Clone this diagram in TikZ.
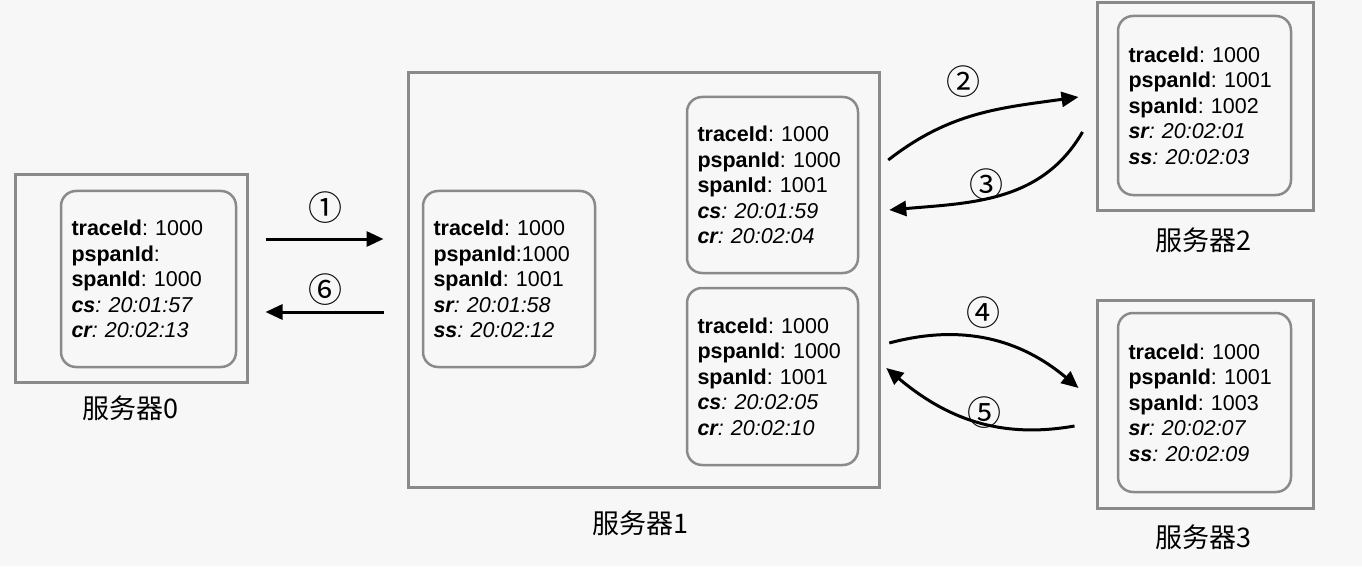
\documentclass[tikz,border=0pt]{standalone}
\usepackage{fontspec}
\setmainfont{Liberation Sans}
\newfontfamily\cjk{Noto Sans CJK SC}
\usetikzlibrary{arrows.meta}
\definecolor{bggray}{HTML}{F7F7F7}
\definecolor{boxgray}{HTML}{8A8A8A}
\frenchspacing

\begin{document}
\begin{tikzpicture}[x=1pt,y=1pt,
    server/.style={draw=boxgray,line width=3pt,inner sep=0pt},
    span/.style={draw=boxgray,line width=2.5pt,rounded corners=15pt,inner xsep=10.5pt,inner ysep=0pt,
      align=left,font=\fontsize{21.5}{25.5}\selectfont},
    lbl/.style={font=\cjk\fontsize{27}{30}\selectfont},
    num/.style={font=\cjk\fontsize{34}{36}\selectfont},
    conn/.style={line width=3pt,-{Triangle[length=17pt,width=15pt]}}]
    \useasboundingbox (0,0) rectangle (1362,566);
    \fill[bggray] (0,0) rectangle (1362,566);

    % Server 0
    \node[server,minimum width=232pt,minimum height=207pt] (s0) at (131,287.5) {};
    \node[span,text width=154pt,minimum height=176pt] (p0) at (148.5,287)
      {\textbf{traceId}: 1000\\ \textbf{pspanId}:\\ \textbf{spanId}: 1000\\
       \textit{\textbf{cs}: 20:01:57}\\ \textit{\textbf{cr}: 20:02:13}};
    \node[lbl] (l0) at (130,158) {服务器0};

    % Server 1
    \node[server,minimum width=471pt,minimum height=414pt] (s1) at (643.5,286) {};
    \node[span,text width=151pt,minimum height=176pt] (p1) at (509,287)
      {\textbf{traceId}: 1000\\ \textbf{pspanId}:1000\\ \textbf{spanId}: 1001\\
       \textit{\textbf{sr}: 20:01:58}\\ \textit{\textbf{ss}: 20:02:12}};
    \node[span,text width=150pt,minimum height=176pt] (c1) at (772.5,381)
      {\textbf{traceId}: 1000\\ \textbf{pspanId}: 1000\\ \textbf{spanId}: 1001\\
       \textit{\textbf{cs}: 20:01:59}\\ \textit{\textbf{cr}: 20:02:04}};
    \node[span,text width=150pt,minimum height=177pt] (c2) at (772.5,189.5)
      {\textbf{traceId}: 1000\\ \textbf{pspanId}: 1000\\ \textbf{spanId}: 1001\\
       \textit{\textbf{cs}: 20:02:05}\\ \textit{\textbf{cr}: 20:02:10}};
    \node[lbl] (l1) at (640,43) {服务器1};

    % Server 2
    \node[server,minimum width=216pt,minimum height=207pt] (s2) at (1205,459.5) {};
    \node[span,text width=152pt,minimum height=179pt] (p2) at (1204.5,460.5)
      {\textbf{traceId}: 1000\\ \textbf{pspanId}: 1001\\ \textbf{spanId}: 1002\\
       \textit{\textbf{sr}: 20:02:01}\\ \textit{\textbf{ss}: 20:02:03}};
    \node[lbl] (l2) at (1203,326) {服务器2};

    % Server 3
    \node[server,minimum width=216pt,minimum height=208pt] (s3) at (1205,162) {};
    \node[span,text width=152pt,minimum height=179pt] (p3) at (1204.5,163.5)
      {\textbf{traceId}: 1000\\ \textbf{pspanId}: 1001\\ \textbf{spanId}: 1003\\
       \textit{\textbf{sr}: 20:02:07}\\ \textit{\textbf{ss}: 20:02:09}};
    \node[lbl] (l3) at (1203,29) {服务器3};

    % Calls 0 <-> 1
    \draw[conn] ([xshift=17pt,yshift=39.5pt]s0.east) -- ([xshift=-23pt,yshift=41pt]s1.west);
    \node[num] (n1) at (325,358) {①};
    \draw[conn] ([xshift=-23pt,yshift=-32pt]s1.west) -- ([xshift=17pt,yshift=-33.5pt]s0.east);
    \node[num] (n6) at (325,276) {⑥};

    % Calls 1 <-> 2
    \draw[conn] ([xshift=29pt,yshift=25pt]c1.east) to[out=38,in=188] ([xshift=-17pt,yshift=9.5pt]s2.west);
    \node[num] (n2) at (963,484) {②};
    \draw[conn] ([xshift=-13pt,yshift=-25.5pt]s2.west) to[out=240,in=5] ([xshift=30pt,yshift=-25pt]c1.east);
    \node[num] (n3) at (986,381) {③};

    % Calls 1 <-> 3
    \draw[conn] ([xshift=30pt,yshift=33.5pt]c2.east) to[out=15,in=140] ([xshift=-17pt,yshift=16pt]s3.west);
    \node[num] (n4) at (983,253) {④};
    \draw[conn] ([xshift=-21pt,yshift=-22pt]s3.west) to[out=190,in=-40] ([xshift=27pt,yshift=8.5pt]c2.east);
    \node[num] (n5) at (984,153) {⑤};
\end{tikzpicture}
\end{document}
